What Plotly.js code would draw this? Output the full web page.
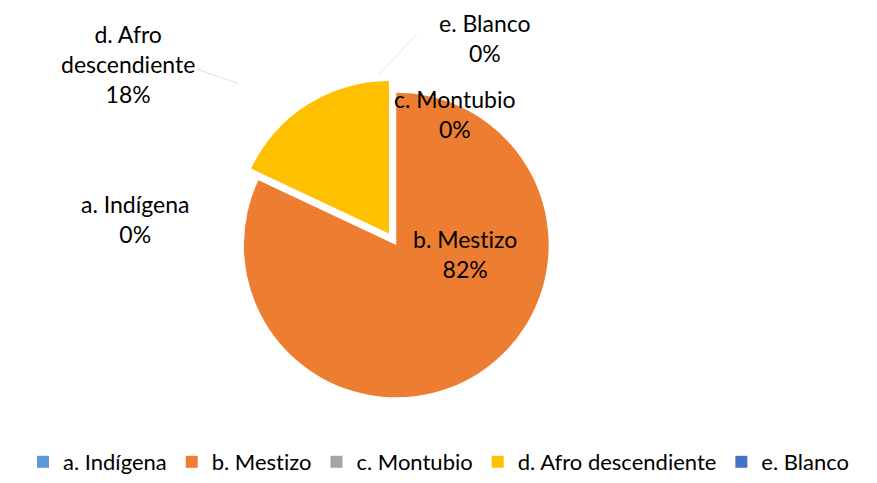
<!DOCTYPE html>
<html>
<head>
<meta charset="utf-8">
<script src="https://cdn.plot.ly/plotly-3.0.1.min.js"></script>
<style>html,body{margin:0;padding:0;background:#fff;}#chart{width:877px;height:483px;} text{font-variant-ligatures:none;font-feature-settings:"liga" 0;}</style>
</head>
<body>
<div id="chart"></div>
<script>
const categories = ["a. Indígena", "b. Mestizo", "c. Montubio", "d. Afro descendiente", "e. Blanco"];
const values = [0, 82, 0, 18, 0];
const colors = ["#5B9BD5", "#ED7D31", "#A5A5A5", "#FFC000", "#4472C4"];
const labelLines = ["a. Indígena", "b. Mestizo", "c. Montubio", "d. Afro<br>descendiente", "e. Blanco"];

const total = values.reduce((a, b) => a + b, 0);
const pct = values.map(v => Math.round(v / total * 100) + "%");

const trace = {
  type: "pie",
  labels: categories,
  values: values,
  sort: false,
  direction: "clockwise",
  rotation: 0,
  pull: [0, 0.02, 0, 0.07, 0],
  marker: {colors: colors, line: {width: 0}},
  textinfo: "none",
  hoverinfo: "none",
  domain: {x: [0.15, 0.75], y: [0.03, 0.81]}
};

const labelPos = [
  {x: 0.154, y: 0.475},
  {x: 0.530, y: 0.392},
  {x: 0.519, y: 0.728},
  {x: 0.146, y: 0.846},
  {x: 0.553, y: 0.910}
];
const annotations = categories.map((c, i) => ({
  xref: "paper", yref: "paper",
  x: labelPos[i].x, y: labelPos[i].y,
  xanchor: "center", yanchor: "middle",
  text: labelLines[i] + "<br>" + pct[i],
  showarrow: false,
  align: "center",
  font: {family: "Lato, 'Open Sans', sans-serif", size: 23, color: "#000"}
}));

const layout = {
  width: 877, height: 483,
  margin: {l: 0, r: 0, t: 0, b: 60},
  paper_bgcolor: "#fff",
  showlegend: true,
  legend: {
    orientation: "h",
    x: 0.5, xanchor: "center",
    y: -0.055, yanchor: "top",
    font: {family: "Lato, 'Open Sans', sans-serif", size: 22, color: "#000"},
    itemwidth: 30,
    traceorder: "normal"
  },
  annotations: annotations,
  shapes: [
    {type: "line", xref: "paper", yref: "paper", x0: 0.224, y0: 0.835, x1: 0.272, y1: 0.80, line: {color: "#E0E0E0", width: 1}},
    {type: "line", xref: "paper", yref: "paper", x0: 0.475, y0: 0.917, x1: 0.431, y1: 0.82, line: {color: "#E0E0E0", width: 1}}
  ]
};

Plotly.newPlot("chart", [trace], layout, {displayModeBar: false, staticPlot: true});
</script>
</body>
</html>
